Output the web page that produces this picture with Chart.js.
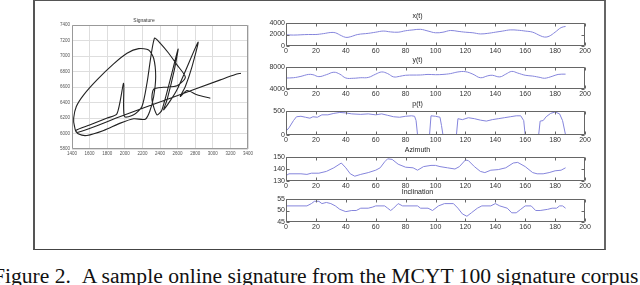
<!DOCTYPE html>
<html>
<head>
<meta charset="utf-8">
<script src="https://cdn.jsdelivr.net/npm/chart.js@4.4.0/dist/chart.umd.min.js"></script>
<style>
    html, body { margin: 0; padding: 0; background: #fff; width: 640px; height: 285px; overflow: hidden; }
    #frame { position: absolute; left: 33px; top: 0; width: 569px; height: 248px;
             border-left: 2px solid #555; border-right: 2px solid #666; border-top: 1px solid #555; border-bottom: 1px solid #444; }
    canvas { position: absolute; }
    #caption { position: absolute; left: -7px; top: 265px; font-family: "Liberation Serif", serif; font-size: 21.6px;
               line-height: 22px; white-space: nowrap; color: #111; }
</style>
</head>
<body>
<div id="frame"></div>
<canvas id="sig"></canvas>
<canvas id="cx"></canvas>
<canvas id="cy"></canvas>
<canvas id="cp"></canvas>
<canvas id="caz"></canvas>
<canvas id="cinc"></canvas>
<div id="caption">Figure 2.&nbsp;&nbsp;A sample online signature from the MCYT 100 signature corpus</div>

<script>
    // Signature trajectory (x, y in tablet units)
    const sigX = [3320, 3256, 3086, 2517, 1949, 1457,
                  1427, 1419, 1449, 1533, 1684, 1873, 2025, 2158, 2271, 2328, 2351, 2328, 2283, 2233,
                  2101, 1949, 1760, 1570, 1476, 1445,
                  1600, 1800, 1911, 1987, 1995, 2101, 2195, 2252, 2336, 2404, 2499, 2593, 2688,
                  2593, 2442, 2328, 2309, 2366, 2423, 2605, 2563, 2480, 2442, 2593, 2832, 2764, 2688, 2631,
                  2707, 2820, 2972];
    const sigY = [6778, 6761, 6692, 6456, 6220, 6014,
                  6100, 6198, 6348, 6499, 6692, 6898, 7035, 7095, 7078, 6971, 6735, 6477, 6284, 6185,
                  6190, 6134, 6039, 5975, 5992, 6040,
                  6110, 6200, 6254, 6649, 6220, 6241, 6349, 6649, 7228, 7164, 7035, 6885, 6726,
                  6615, 6597, 6572, 6434, 6241, 6306, 7087, 6821, 6434, 6306, 6563, 7177, 6863, 6606, 6477,
                  6554, 6499, 6456];

    // x(t)
    const xT = [0, 5, 10, 15, 20, 25, 30, 33, 37, 40, 43, 48, 55, 60, 65, 70, 75, 80, 85, 90, 95, 100, 105, 110, 115, 120,
                125, 130, 135, 140, 145, 150, 155, 160, 165, 170, 173, 176, 180, 184, 187];
    const xV = [1950, 1900, 1950, 2000, 2000, 2150, 2350, 2300, 1800, 1500, 1600, 2000, 2200, 2400, 2600, 2450, 2400, 2650, 2800, 2900,
                2600, 2300, 2400, 2700, 2550, 2400, 2300, 2100, 2200, 2400, 2600, 2800, 2750, 2600, 2400, 1800, 1550, 1700, 2400, 3200, 3400];

    // y(t)
    const yT = [0, 5, 10, 15, 18, 22, 27, 32, 36, 40, 45, 50, 55, 60, 64, 68, 72, 76, 80, 90, 95, 100, 105, 110, 115, 120,
                125, 130, 135, 138, 143, 147, 151, 155, 160, 165, 170, 173, 178, 182, 187];
    const yV = [6000, 6050, 6300, 6650, 6600, 6250, 6600, 7050, 6700, 6000, 5950, 6050, 6100, 6700, 7100, 6800, 6200, 6300, 6500, 6550,
                6650, 6600, 6650, 6800, 7100, 7150, 6700, 6050, 6400, 6500, 6200, 6700, 7200, 6900, 6500, 6350, 6100, 5950, 6300, 6650, 6700];

    // p(t) pressure
    const pT = [0, 2, 5, 7, 10, 13, 16, 18, 21, 24, 28, 32, 36, 40, 44, 50, 55, 60, 64, 68, 72, 76, 80, 84, 86, 87, 88,
                96, 97, 100, 103, 104, 105, 114, 115, 118, 122, 126, 130, 134, 138, 142, 146, 150, 154, 157, 159, 160,
                169, 170, 172, 174, 177, 180, 183, 185, 187];
    const pV = [80, 150, 300, 380, 390, 370, 350, 380, 370, 420, 420, 450, 470, 460, 440, 430, 440, 420, 440, 410, 380, 370, 390, 400, 390, 300, 0,
                0, 400, 390, 370, 200, 0, 0, 340, 320, 360, 340, 310, 290, 320, 340, 360, 380, 400, 400, 300, 0,
                0, 290, 300, 380, 450, 480, 440, 300, 0];

    // Azimuth
    const azT = [0, 2, 10, 14, 17, 22, 27, 32, 37, 40, 43, 46, 50, 55, 60, 63, 66, 68, 71, 75, 80, 85, 88, 92, 97, 100, 103, 108,
                 113, 116, 120, 122, 126, 130, 133, 137, 142, 147, 152, 155, 160, 165, 168, 172, 176, 180, 184, 187];
    const azV = [134.5, 136, 136, 135.5, 136.5, 136.5, 138, 141, 145, 141, 136, 134, 135.5, 137, 139, 141, 146, 148.5, 148, 144,
                 141.5, 141, 139, 142, 143, 143, 142, 141, 140, 142, 147.5, 147, 142, 138, 137, 139, 139.5, 141, 145, 145.5,
                 142, 137, 136, 136, 137, 138.5, 139, 141];

    // Inclination
    const incT = [0, 14, 17, 19, 22, 24, 27, 30, 33, 36, 40, 44, 47, 50, 55, 58, 60, 66, 68, 70, 72, 75, 78, 88, 90, 95, 98,
                  102, 106, 112, 115, 118, 121, 124, 128, 131, 137, 140, 143, 148, 151, 154, 157, 160, 164, 167, 170, 175,
                  178, 181, 183, 185, 187];
    const incV = [52, 52, 53, 54, 54, 53, 53.5, 53, 52, 50.5, 49.5, 50, 50, 51, 51, 51.5, 52, 52, 51, 50, 51, 53, 52, 52, 51, 51, 50,
                  52, 53, 53, 51, 48.5, 47.5, 49, 51, 52, 52, 53, 52, 51, 49, 49, 50.5, 52, 52, 50, 50, 50.5,
                  51, 51, 52, 52, 51];

    const tickFont = { family: 'Liberation Sans', size: 7 };
    const plainNum = v => String(v);   // no thousands separators, like MATLAB

    // MATLAB style box with inward ticks on all four sides
    const matBox = {
        id: 'matBox',
        afterDatasetsDraw(chart, args, o) {
            const a = chart.chartArea, ctx = chart.ctx;
            const xs = chart.scales.x, ys = chart.scales.y;
            const L = Math.round(a.left) + 0.5, R = Math.round(a.right) - 0.5;
            const T = Math.round(a.top) + 0.5, B = Math.round(a.bottom) - 0.5;
            const len = o.tick;
            ctx.save();
            ctx.strokeStyle = o.color;
            ctx.lineWidth = 1;
            ctx.beginPath();
            ctx.rect(L, T, R - L, B - T);
            if (len > 0) {
                xs.ticks.forEach(t => {
                    const p = Math.round(xs.getPixelForValue(t.value)) + 0.5;
                    ctx.moveTo(p, B); ctx.lineTo(p, B - len);
                    ctx.moveTo(p, T); ctx.lineTo(p, T + len);
                });
                ys.ticks.forEach(t => {
                    const p = Math.round(ys.getPixelForValue(t.value)) + 0.5;
                    ctx.moveTo(L, p); ctx.lineTo(L + len, p);
                    ctx.moveTo(R, p); ctx.lineTo(R - len, p);
                });
            }
            ctx.stroke();
            ctx.restore();
        }
    };

    function toPoints(xs, ys) {
        return xs.map((x, i) => ({ x: x, y: ys[i] }));
    }

    function timePanel(id, plotTop, plotH, title, ts, vs, yMin, yMax, yStep, tension) {
        const el = document.getElementById(id);
        const padTop = 14, padBottom = 12, axisW = 36, padRight = 15;
        el.width = axisW + 299 + padRight;
        el.height = padTop + plotH + padBottom;
        el.style.left = (286 - axisW) + 'px';
        el.style.top = (plotTop - padTop) + 'px';
        new Chart(el, {
            type: 'line',
            data: {
                datasets: [{
                    data: toPoints(ts, vs),
                    borderColor: '#8585dc',
                    borderWidth: 1,
                    pointRadius: 0,
                    tension: tension
                }]
            },
            options: {
                responsive: false,
                animation: false,
                layout: { padding: { top: 0, right: padRight, left: 0, bottom: 0 } },
                plugins: {
                    legend: { display: false },
                    tooltip: { enabled: false },
                    title: { display: true, text: title, color: '#222', font: { family: 'Liberation Sans', size: 7, weight: 'normal', lineHeight: 1.2 },
                             padding: { top: 2.8, bottom: 2.8 } },
                    matBox: { tick: 3, color: '#666' }
                },
                scales: {
                    x: {
                        type: 'linear', min: 0, max: 200,
                        ticks: { stepSize: 20, font: tickFont, color: '#333', padding: 1, maxRotation: 0, callback: plainNum },
                        grid: { display: false, drawTicks: false },
                        border: { display: false },
                        afterFit: s => { s.height = padBottom; }
                    },
                    y: {
                        min: yMin, max: yMax,
                        ticks: { stepSize: yStep, font: tickFont, color: '#333', padding: 1, callback: plainNum },
                        grid: { display: false, drawTicks: false },
                        border: { display: false },
                        afterFit: s => { s.width = axisW; }
                    }
                }
            },
            plugins: [matBox]
        });
    }

    function signaturePanel() {
        const el = document.getElementById('sig');
        const padTop = 9, padBottom = 10, axisW = 32, padRight = 10;
        el.width = axisW + 176 + padRight;
        el.height = padTop + 124 + padBottom;
        el.style.left = (72 - axisW) + 'px';
        el.style.top = (25 - padTop) + 'px';
        const small = { family: 'Liberation Sans', size: 4.5 };
        new Chart(el, {
            type: 'scatter',
            data: {
                datasets: [{
                    data: toPoints(sigX, sigY),
                    showLine: true,
                    borderColor: '#222',
                    borderWidth: 1.1,
                    pointRadius: 0,
                    tension: 0.25
                }]
            },
            options: {
                responsive: false,
                animation: false,
                layout: { padding: { top: 0, right: padRight, left: 0, bottom: 0 } },
                plugins: {
                    legend: { display: false },
                    tooltip: { enabled: false },
                    title: { display: true, text: 'Signature', color: '#333', font: { family: 'Liberation Sans', size: 5, weight: 'normal', lineHeight: 1.2 },
                             padding: { top: 1.5, bottom: 1.5 } },
                    matBox: { tick: 0, color: '#999' }
                },
                scales: {
                    x: {
                        type: 'linear', min: 1400, max: 3400,
                        ticks: { stepSize: 200, font: small, color: '#555', padding: 2, maxRotation: 0, autoSkip: false, callback: plainNum },
                        grid: { color: '#dedede', drawTicks: false },
                        border: { display: false },
                        afterFit: s => { s.height = padBottom; }
                    },
                    y: {
                        min: 5800, max: 7400,
                        ticks: { stepSize: 200, font: small, color: '#555', padding: 2, autoSkip: false, callback: plainNum },
                        grid: { color: '#dedede', drawTicks: false },
                        border: { display: false },
                        afterFit: s => { s.width = axisW; }
                    }
                }
            },
            plugins: [matBox]
        });
    }

    signaturePanel();
    timePanel('cx', 23, 23, 'x(t)', xT, xV, 0, 4000, 2000, 0.4);
    timePanel('cy', 67, 22, 'y(t)', yT, yV, 4000, 8000, 2000, 0.4);
    timePanel('cp', 111, 24, 'p(t)', pT, pV, 0, 500, 500, 0);
    timePanel('caz', 157, 24, 'Azimuth', azT, azV, 130, 150, 10, 0);
    timePanel('cinc', 199, 23, 'Inclination', incT, incV, 45, 55, 5, 0);
</script>
</body>
</html>
